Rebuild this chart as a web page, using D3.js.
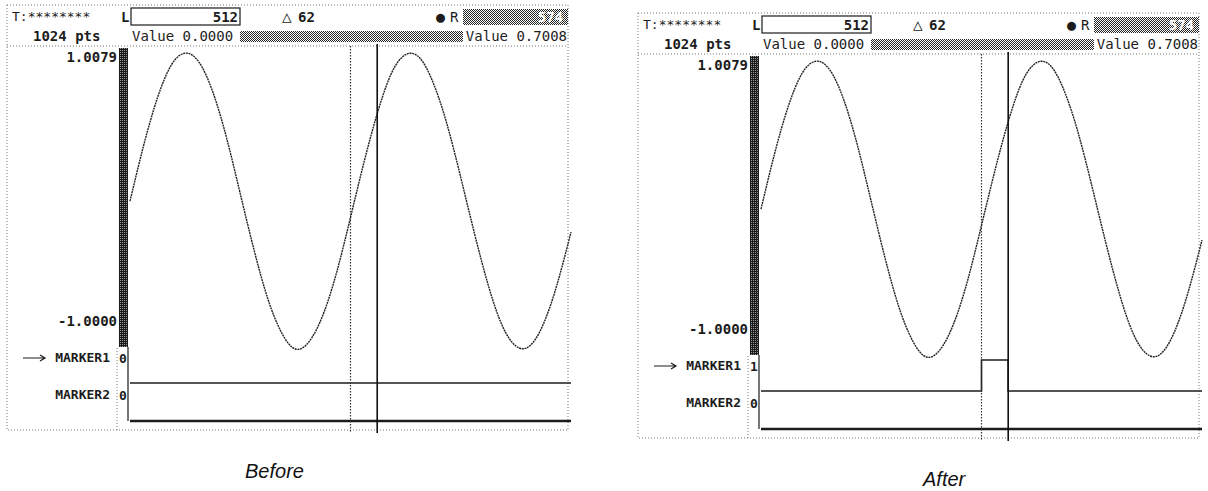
<!DOCTYPE html>
<html><head><meta charset="utf-8">
<script src="https://cdn.jsdelivr.net/npm/d3@7"></script>
<style>body{margin:0;background:#fff}svg{display:block}</style>
</head><body>
<svg id="c" width="1208" height="491"></svg>
<script>
// ---- data ----
const sampleIndex = [0,32,64,96,128,160,192,224,256,288,320,352,384,416,448,480,512,544,576,608,640,672,704,736,768,800,832,864,896,928,960,992,1024];
const waveValues  = [0.00,0.38,0.70,0.92,1.00,0.94,0.74,0.43,0.05,-0.33,-0.66,-0.89,-1.00,-0.95,-0.77,-0.48,-0.11,0.27,0.61,0.87,0.99,0.97,0.80,0.52,0.16,-0.22,-0.57,-0.84,-0.98,-0.98,-0.83,-0.56,-0.21];
const yDomain = [-1.0000, 1.0079];
const yTickLabels = ["1.0079", "-1.0000"];
const totalPts = 1024;
const cursorL = 512, cursorR = 574, cursorDelta = 62;
const headerTexts = {title:"T:********", pts:"1024 pts", left:"Value 0.0000", right:"Value 0.7008"};
const markerNames = ["MARKER1", "MARKER2"];
// marker traces: [index, level]
const marker1Before = [[0,0],[1024,0]];
const marker1After  = [[0,0],[512,1],[574,0],[1024,0]];
const marker2Trace  = [[0,0],[1024,0]];
const panelTitles = ["Before", "After"];

const svg = d3.select("#c");
const defs = svg.append("defs");
function dither(id, dark){
  const p = defs.append("pattern").attr("id",id).attr("width",2).attr("height",2)
    .attr("patternUnits","userSpaceOnUse");
  p.append("rect").attr("width",2).attr("height",2).attr("fill",dark?"#1a1a1a":"#fff");
  p.append("rect").attr("x",0).attr("y",0).attr("width",1).attr("height",1).attr("fill",dark?"#9a9a9a":"#222");
  p.append("rect").attr("x",1).attr("y",1).attr("width",1).attr("height",1).attr("fill",dark?"#1a1a1a":"#222");
}
dither("mid", false);
dither("dark", true);

const mono = "'DejaVu Sans Mono', monospace";
const ink = "#1c1c1c";

function txt(g, x, y, s, opt){
  opt = opt || {};
  return g.append("text").attr("x",x).attr("y",y).attr("font-family",mono)
    .attr("font-size",opt.size||14).attr("font-weight",opt.weight||"bold")
    .attr("text-anchor",opt.anchor||"start").attr("fill",opt.fill||ink).text(s);
}

function panel(ox, oy, m1Trace, m1Value, title, titleX, titleY){
  const g = svg.append("g").attr("transform",`translate(${ox},${oy})`);
  const x = d3.scaleLinear().domain([0,totalPts]).range([130,571]);
  const y = d3.scaleLinear().domain(yDomain).range([349,52]);
  const ym1 = d3.scaleLinear().domain([0,1]).range([383,352]);
  const ym2 = d3.scaleLinear().domain([0,1]).range([421,392]);
  const dot = {stroke:"#777","stroke-width":1,"stroke-dasharray":"1,2",fill:"none"};
  const applyAttrs = (sel,a)=>{for(const k in a) sel.attr(k,a[k]); return sel;};

  // frame
  applyAttrs(g.append("rect").attr("x",7).attr("y",5).attr("width",561).attr("height",425), dot);
  applyAttrs(g.append("line").attr("x1",7).attr("x2",568).attr("y1",46).attr("y2",46), dot);
  applyAttrs(g.append("line").attr("x1",117).attr("x2",117).attr("y1",348).attr("y2",430), dot);

  // header row 1
  txt(g, 12, 21, headerTexts.title, {size:13, weight:"normal"});
  txt(g, 121, 22, "L");
  g.append("rect").attr("x",131).attr("y",8).attr("width",109).attr("height",17).attr("fill","#fff").attr("stroke",ink).attr("stroke-width",1.2);
  txt(g, 238, 22, String(cursorL), {anchor:"end"});
  txt(g, 282, 22, "△", {size:16, weight:"normal"});
  txt(g, 298, 22, String(cursorDelta));
  txt(g, 436, 22, "●", {size:15});
  txt(g, 450, 22, "R", {weight:"normal"});
  g.append("rect").attr("x",463).attr("y",9).attr("width",105).attr("height",16).attr("fill","url(#mid)");
  txt(g, 563, 22, String(cursorR), {anchor:"end", fill:"#fff"});

  // header row 2
  txt(g, 33, 41, headerTexts.pts);
  txt(g, 132, 41, headerTexts.left, {weight:"normal"});
  g.append("rect").attr("x",240).attr("y",31).attr("width",223).attr("height",11).attr("fill","url(#mid)");
  txt(g, 567, 41, headerTexts.right, {anchor:"end", weight:"normal"});

  // y-axis bar + labels
  g.append("rect").attr("x",119).attr("y",y(yDomain[1])-4).attr("width",9).attr("height",y(yDomain[0])-y(yDomain[1])+2).attr("fill","url(#dark)");
  txt(g, 117, y(yDomain[1])+10, yTickLabels[0], {anchor:"end"});
  txt(g, 117, 326, yTickLabels[1], {anchor:"end"});

  // waveform
  const line = d3.line().x((d,i)=>x(sampleIndex[i])).y(d=>y(d)).curve(d3.curveNatural);
  g.append("path").attr("d",line(waveValues)).attr("fill","none").attr("stroke","#222").attr("stroke-width",1.4).attr("stroke-dasharray","2,0.7");

  // marker labels
  g.append("path").attr("d","M23,358H44M40,355L45,358L40,361").attr("fill","none").attr("stroke",ink).attr("stroke-width",1.2);
  txt(g, 110, 362, markerNames[0], {anchor:"end", size:13});
  txt(g, 119, 363, String(m1Value), {size:13});
  txt(g, 110, 399, markerNames[1], {anchor:"end", size:13});
  txt(g, 119, 400, "0", {size:13});

  // marker traces
  g.append("line").attr("x1",128).attr("x2",128).attr("y1",y(yDomain[0])-2).attr("y2",ym2(0)).attr("stroke",ink).attr("stroke-width",1.2);
  const step1 = d3.line().x(d=>x(d[0])).y(d=>ym1(d[1])).curve(d3.curveStepAfter);
  const step2 = d3.line().x(d=>x(d[0])).y(d=>ym2(d[1])).curve(d3.curveStepAfter);
  g.append("path").attr("d",step1(m1Trace)).attr("fill","none").attr("stroke",ink).attr("stroke-width",1.6);
  g.append("path").attr("d",step2(marker2Trace)).attr("fill","none").attr("stroke",ink).attr("stroke-width",2.6);

  // cursors
  g.append("line").attr("x1",x(cursorL)).attr("x2",x(cursorL)).attr("y1",46).attr("y2",432).attr("stroke","#333").attr("stroke-width",1.2).attr("stroke-dasharray","1.5,1.5");
  g.append("line").attr("x1",x(cursorR)).attr("x2",x(cursorR)).attr("y1",44).attr("y2",433).attr("stroke","#111").attr("stroke-width",1.6);

  svg.append("text").attr("x",titleX).attr("y",titleY).attr("font-family","'Liberation Sans', Arial, sans-serif").attr("font-style","italic").attr("font-size",20).attr("fill","#111").text(title);
}

panel(0, 0, marker1Before, 0, panelTitles[0], 245, 478);
panel(631, 8, marker1After, 1, panelTitles[1], 923, 486);
</script>
</body></html>
